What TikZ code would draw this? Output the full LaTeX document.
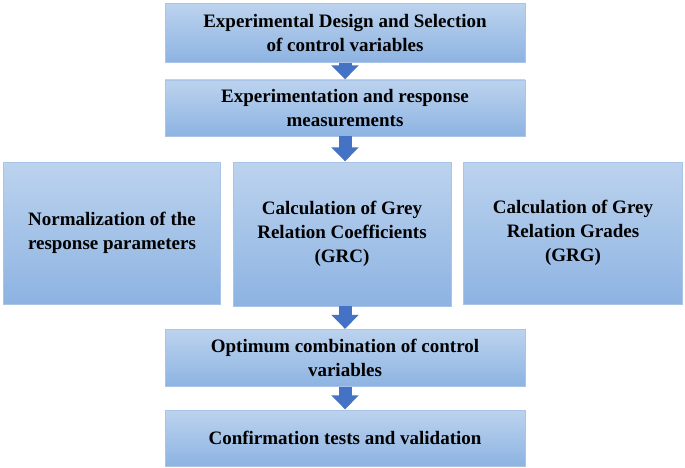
\documentclass[tikz,border=0pt]{standalone}
\usepackage{fontspec}
\setmainfont{Liberation Serif}
\usetikzlibrary{arrows.meta}
\definecolor{boxtop}{HTML}{BCD3EE}
\definecolor{boxbot}{HTML}{8DB3E2}
\definecolor{boxline}{HTML}{A9C4E6}
\definecolor{arrblue}{HTML}{4472C4}
\tikzset{
  stepbox/.style={draw=boxline, top color=boxtop, bottom color=boxbot, align=center,
    font=\fontsize{19}{24}\selectfont\bfseries, inner sep=2pt},
  flow/.style={arrblue, line width=13pt, -{Triangle[width=27pt,length=14pt]}, shorten >=0.5pt}
}
\begin{document}
\begin{tikzpicture}[x=1pt,y=-1pt]
    \useasboundingbox (0,0) rectangle (685,468);

        \node[stepbox, minimum width=360pt, minimum height=59pt] (n1) at (345,33) {Experimental Design and Selection\\of control variables};
        \node[stepbox, minimum width=360pt, minimum height=56pt] (n2) at (345,108) {Experimentation and response\\measurements};

        \node[stepbox, minimum width=217pt, minimum height=142pt] (n3) at (112,233) {Normalization of the\\response parameters};
        \node[stepbox, minimum width=218pt, minimum height=144pt] (n4) at (342,234) {Calculation of Grey\\Relation Coefficients\\(GRC)};
        \node[stepbox, minimum width=219pt, minimum height=142pt] (n5) at (573,233) {Calculation of Grey\\Relation Grades\\(GRG)};

        \node[stepbox, minimum width=360pt, minimum height=57pt] (n6) at (345,358) {Optimum combination of control\\variables};
        \node[stepbox, minimum width=360pt, minimum height=56pt] (n7) at (345,438) {Confirmation tests and validation};

        \draw[flow] (n1.south) -- (n2.north);
        \draw[flow] (n2.south) -- (n2.south |- n4.north);
        \draw[flow] (n4.south -| n6.north) -- (n6.north);
        \draw[flow] (n6.south) -- (n7.north);

    \end{tikzpicture}
\end{document}
